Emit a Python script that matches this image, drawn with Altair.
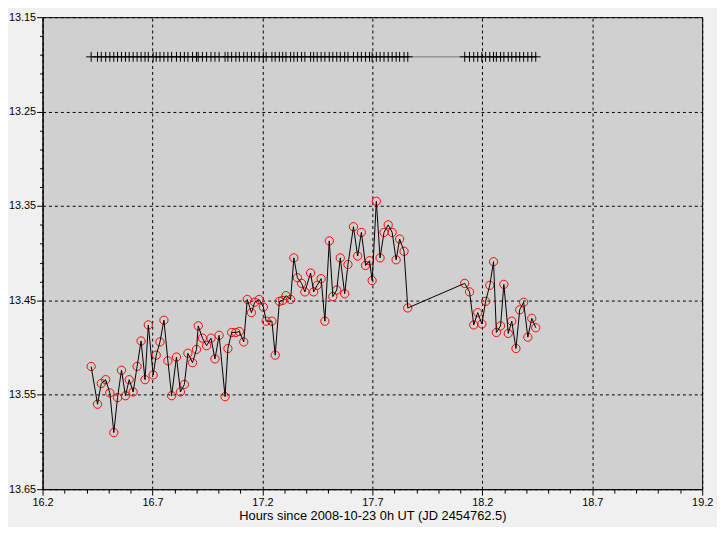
import altair as alt
import pandas as pd

# Observation times (hours since 2008-10-23 0h UT) and magnitudes
hours = [
    16.421, 16.450, 16.467, 16.487, 16.506, 16.524, 16.541, 16.559, 16.577, 16.594,
    16.612, 16.630, 16.648, 16.666, 16.681, 16.703, 16.717, 16.734, 16.752, 16.770,
    16.787, 16.809, 16.827, 16.845, 16.861, 16.882, 16.900, 16.908, 16.927, 16.946,
    16.966, 16.984, 17.003, 17.030, 17.043, 17.060, 17.079, 17.095, 17.115, 17.131,
    17.150, 17.165, 17.185, 17.204, 17.217, 17.243, 17.258, 17.277, 17.292, 17.307,
    17.328, 17.343, 17.359, 17.378, 17.393, 17.419, 17.433, 17.449, 17.467, 17.484,
    17.504, 17.520, 17.538, 17.554, 17.574, 17.589, 17.614, 17.633, 17.650, 17.669,
    17.687, 17.699, 17.718, 17.735, 17.753, 17.772, 17.790, 17.808, 17.824, 17.844,
    17.861, 18.120, 18.142, 18.161, 18.179, 18.198, 18.215, 18.234, 18.251, 18.264,
    18.283, 18.298, 18.318, 18.334, 18.353, 18.370, 18.388, 18.407, 18.425, 18.443,
]
mags = [
    13.520, 13.560, 13.538, 13.534, 13.548, 13.590, 13.553, 13.524, 13.551, 13.534,
    13.547, 13.520, 13.493, 13.534, 13.476, 13.529, 13.508, 13.494, 13.471, 13.514,
    13.551, 13.510, 13.547, 13.539, 13.506, 13.516, 13.502, 13.477, 13.490, 13.498,
    13.490, 13.512, 13.487, 13.552, 13.501, 13.484, 13.484, 13.483, 13.494, 13.449,
    13.463, 13.452, 13.449, 13.457, 13.472, 13.472, 13.508, 13.451, 13.450, 13.445,
    13.449, 13.405, 13.426, 13.432, 13.441, 13.421, 13.441, 13.434, 13.427, 13.472,
    13.387, 13.446, 13.439, 13.405, 13.443, 13.412, 13.372, 13.403, 13.378, 13.413,
    13.408, 13.429, 13.345, 13.405, 13.378, 13.370, 13.378, 13.407, 13.385, 13.398,
    13.458, 13.432, 13.441, 13.476, 13.463, 13.475, 13.451, 13.434, 13.409, 13.484,
    13.477, 13.433, 13.485, 13.472, 13.501, 13.460, 13.452, 13.489, 13.469, 13.479,
]

TIMING_ROW = 13.192  # magnitude level at which the observation-time marks are drawn

x_ticks = [round(16.2 + 0.1 * i, 1) for i in range(31)]
y_ticks = [round(13.15 + 0.02 * i, 2) for i in range(26)]

df = pd.DataFrame({"hours": hours, "mag": mags})
span = pd.DataFrame({"start": [min(hours)], "end": [max(hours)]})

FONT = "Liberation Sans"
x_major = "abs((datum.value*2)%1-0.4)<0.01"
y_major = "abs((datum.value*10)%1-0.5)<0.01"

x_axis = alt.Axis(
    values=x_ticks,
    labelExpr=f"{x_major} ? format(datum.value, '.1f') : ''",
    grid=True, gridColor="black", gridDash=[3, 3], gridWidth=1,
    gridOpacity={"condition": {"test": x_major, "value": 1}, "value": 0},
    tickSize={"condition": {"test": x_major, "value": 6}, "value": 4},
    tickColor="black", domainColor="black",
    labelFont=FONT, labelFontSize=11, labelColor="black", labelPadding=2,
    labelOverlap=False, labelFlush=False,
    title="Hours since 2008-10-23 0h UT (JD 2454762.5)",
    titleFont=FONT, titleFontSize=13, titleFontWeight="normal", titleColor="black",
    titlePadding=2,
)
y_axis = alt.Axis(
    values=y_ticks,
    labelExpr=f"{y_major} ? format(datum.value, '.2f') : ''",
    grid=True, gridColor="black", gridDash=[3, 3], gridWidth=1,
    gridOpacity={"condition": {"test": y_major, "value": 1}, "value": 0},
    tickSize={"condition": {"test": y_major, "value": 6}, "value": 3},
    tickColor="black", domainColor="black",
    labelFont=FONT, labelFontSize=11, labelColor="black", labelPadding=1,
    labelOverlap=False, labelFlush=False,
    title=None,
)

x_scale = alt.Scale(domain=[16.2, 19.2], nice=False, zero=False)
y_scale = alt.Scale(domain=[13.15, 13.65], reverse=True, nice=False, zero=False)


def X(field):
    return alt.X(field, type="quantitative", scale=x_scale, axis=x_axis)


def Y(field):
    return alt.Y(field, type="quantitative", scale=y_scale, axis=y_axis)


row_y = alt.YDatum(TIMING_ROW, type="quantitative", scale=y_scale, axis=y_axis)

span_rule = alt.Chart(span).mark_rule(color="#7a7a7a", strokeWidth=1).encode(
    x=X("start"), x2="end", y=row_y
)

time_marks = alt.Chart(df).mark_point(
    shape="M-1,0L1,0M0,-1L0,1", size=100, filled=False, stroke="black",
    strokeWidth=1, opacity=1,
).encode(x=X("hours"), y=row_y)

circles = alt.Chart(df).mark_point(
    shape="circle", size=70, filled=False, color="red", strokeWidth=1, opacity=1
).encode(x=X("hours"), y=Y("mag"))

line = alt.Chart(df).mark_line(color="black", strokeWidth=1).encode(
    x=X("hours"), y=Y("mag"), order="hours:Q"
)

chart = (
    alt.layer(span_rule, time_marks, circles, line)
    .properties(
        width=668,
        height=478,
        background="#f0f0f0",
        padding={"left": 0, "top": 0, "right": 4, "bottom": 1},
    )
    .configure_view(fill="#d0d0d0", stroke="black", strokeWidth=1)
)

chart.save("out.html", embed_options={"renderer": "svg", "actions": False})
